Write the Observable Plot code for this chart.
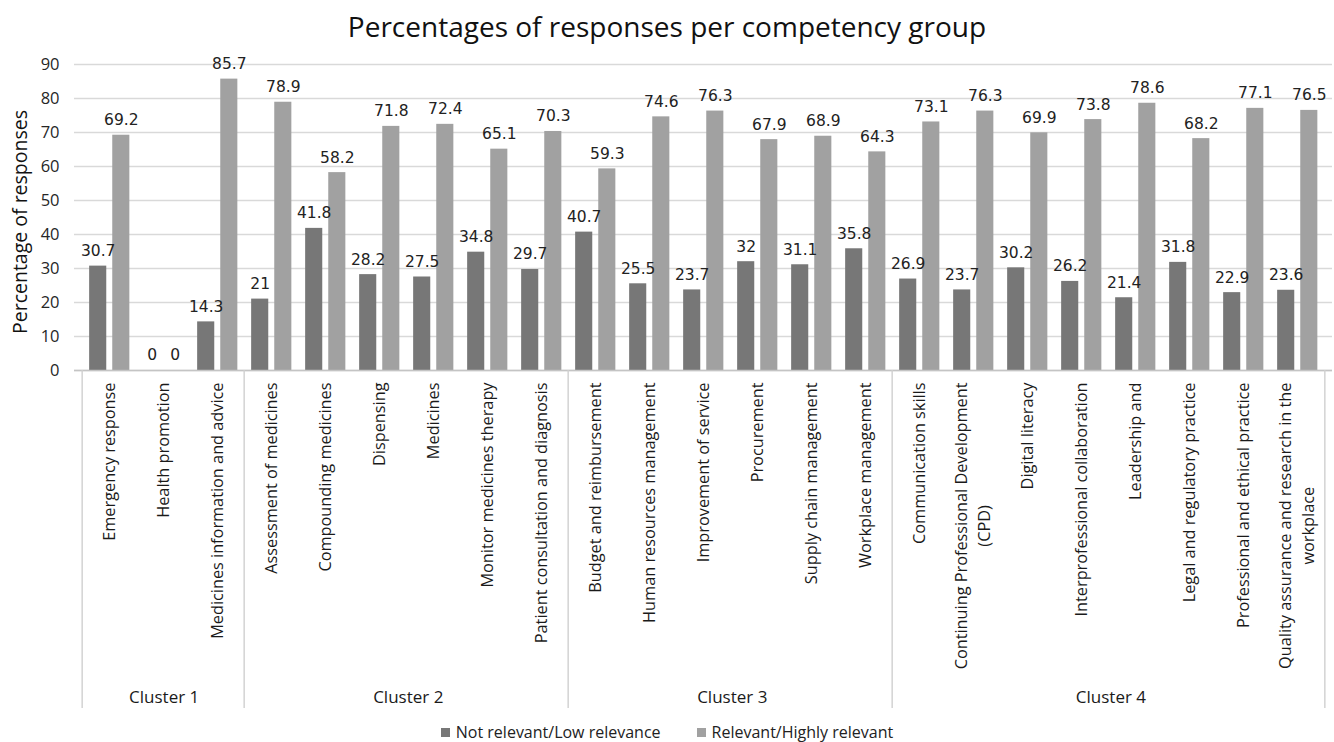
<!DOCTYPE html>
<html><head><meta charset="utf-8">
<script src="https://cdn.jsdelivr.net/npm/d3@7"></script>
<script src="https://cdn.jsdelivr.net/npm/@observablehq/plot@0.6"></script>
<style>
body{margin:0;background:#fff;font-family:"Open Sans",sans-serif;}
#wrap{position:relative;width:1334px;height:742px;overflow:hidden;}
#chart{position:absolute;left:0;top:0;}
#title{position:absolute;left:0;top:6px;width:1334px;text-align:center;font-size:28px;line-height:40px;color:#111;}
#ylabel{position:absolute;left:20px;top:222px;width:400px;margin-left:-200px;text-align:center;font-size:19.5px;line-height:26px;margin-top:-13px;transform:rotate(-90deg);color:#111;white-space:nowrap;}
#legend{position:absolute;left:0;top:721px;width:1334px;display:flex;justify-content:center;font-size:16px;line-height:22px;color:#222;}
#legend .item{display:flex;align-items:center;margin:0 18px;}
#legend .sw{width:9px;height:9px;margin-right:6px;display:inline-block;}
</style></head><body>
<div id="wrap"><div id="chart"></div><div id="title"></div><div id="ylabel"></div><div id="legend"></div></div>
<script>
const chartTitle = "Percentages of responses per competency group";
const yLabel = "Percentage of responses";
const clusters = ["Cluster 1", "Cluster 2", "Cluster 3", "Cluster 4"];
const clusterSizes = [3, 6, 6, 8];
const categories = [
  "Emergency response", "Health promotion", "Medicines information and advice",
  "Assessment of medicines", "Compounding medicines", "Dispensing", "Medicines",
  "Monitor medicines therapy", "Patient consultation and diagnosis",
  "Budget and reimbursement", "Human resources management", "Improvement of service",
  "Procurement", "Supply chain management", "Workplace management",
  "Communication skills", "Continuing Professional Development\n(CPD)", "Digital literacy",
  "Interprofessional collaboration", "Leadership and", "Legal and regulatory practice",
  "Professional and ethical practice", "Quality assurance and research in the\nworkplace"
];
const notRelevant = [30.7, 0, 14.3, 21, 41.8, 28.2, 27.5, 34.8, 29.7, 40.7, 25.5, 23.7, 32, 31.1, 35.8, 26.9, 23.7, 30.2, 26.2, 21.4, 31.8, 22.9, 23.6];
const relevant    = [69.2, 0, 85.7, 78.9, 58.2, 71.8, 72.4, 65.1, 70.3, 59.3, 74.6, 76.3, 67.9, 68.9, 64.3, 73.1, 76.3, 69.9, 73.8, 78.6, 68.2, 77.1, 76.5];
const seriesNames = ["Not relevant/Low relevance", "Relevant/Highly relevant"];
const yTicks = [0, 10, 20, 30, 40, 50, 60, 70, 80, 90];

const W = 1334, H = 742, mL = 74, mR = 2, mT = 64, mB = 372;
const colors = ["#777777", "#a1a1a1"];
const step = (W - mL - mR) / categories.length;
const barW = 17.8;
const inset = (step - barW) / 2;
const offsets = [-11.3, 11.8];

const rows = categories.flatMap((c, i) => [
  {category: c, series: seriesNames[0], value: notRelevant[i], s: 0},
  {category: c, series: seriesNames[1], value: relevant[i], s: 1}
]);

let start = 0;
const clusterInfo = clusters.map((name, k) => {
  const cats = categories.slice(start, start + clusterSizes[k]);
  start += clusterSizes[k];
  return {name, first: cats[0], last: cats[cats.length - 1], n: cats.length};
});

const ctx = document.createElement("canvas").getContext("2d");
const labelFont = 16.3;
ctx.font = `${labelFont}px "Open Sans"`;

const single = categories.filter(c => !c.includes("\n")).map(c => ({category: c, t: c}));
const wrapped = categories.filter(c => c.includes("\n")).map(c => {
  const [l1, l2] = c.split("\n");
  return {category: c, l1, l2, w: ctx.measureText(l1).width};
});

const labelTop = 12;
const marks = [
  Plot.ruleY(yTicks, {y: d => d, stroke: "#d9d9d9", strokeWidth: 1.4}),
  ...[0, 1].map(s => Plot.barY(rows.filter(r => r.s === s), {
    x: "category", y: "value", fill: colors[s], insetLeft: inset, insetRight: inset, dx: offsets[s]
  })),
  Plot.ruleY([0], {stroke: "#c4c4c4", strokeWidth: 1.4}),
  ...[0, 1].map(s => Plot.text(rows.filter(r => r.s === s), {
    x: "category", y: "value", text: d => String(d.value), dx: offsets[s], dy: -15,
    lineAnchor: "middle", fontFamily: "DejaVu Sans", fontSize: 15.5, fill: "#222"
  })),
  Plot.ruleX(clusterInfo, {x: "first", dx: -step / 2, stroke: "#cfcfcf", strokeWidth: 1.4, insetTop: H - mT - mB, insetBottom: -338}),
  Plot.ruleX([clusterInfo[clusterInfo.length - 1]], {x: "last", dx: step / 2, stroke: "#cfcfcf", strokeWidth: 1.4, insetTop: H - mT - mB, insetBottom: -338}),
  Plot.text(single, {x: "category", text: "t", frameAnchor: "bottom", rotate: -90, textAnchor: "end",
    lineAnchor: "middle", dy: labelTop, fontSize: labelFont, fill: "#1a1a1a"}),
  Plot.text(wrapped, {x: "category", text: "l1", frameAnchor: "bottom", rotate: -90, textAnchor: "end",
    lineAnchor: "middle", dy: labelTop, dx: -11.5, fontSize: labelFont, fill: "#1a1a1a"}),
  ...wrapped.map(w => Plot.text([w], {x: "category", text: "l2", frameAnchor: "bottom", rotate: -90, textAnchor: "middle",
    lineAnchor: "middle", dy: labelTop + w.w / 2, dx: 11.5, fontSize: labelFont, fill: "#1a1a1a"})),
  ...clusterInfo.map(c => Plot.text([c], {x: "first", text: "name", frameAnchor: "bottom",
    dx: (c.n - 1) * step / 2, dy: 327, lineAnchor: "middle", fontSize: 17, fill: "#1a1a1a"}))
];

const chart = Plot.plot({
  width: W, height: H,
  marginLeft: mL, marginRight: mR, marginTop: mT, marginBottom: mB,
  x: {domain: categories, padding: 0, axis: null},
  y: {domain: [0, 90], ticks: yTicks, tickSize: 0, tickPadding: 15, label: null, tickFormat: d => String(d)},
  style: {fontFamily: "Open Sans", fontSize: "16.5px", color: "#262626", background: "white"},
  marks
});
document.getElementById("chart").appendChild(chart);
document.getElementById("title").textContent = chartTitle;
document.getElementById("ylabel").textContent = yLabel;
const legend = document.getElementById("legend");
seriesNames.forEach((name, i) => {
  const item = document.createElement("span");
  item.className = "item";
  const sw = document.createElement("span");
  sw.className = "sw"; sw.style.background = colors[i];
  item.appendChild(sw);
  item.appendChild(document.createTextNode(name));
  legend.appendChild(item);
});
</script>
</body></html>
